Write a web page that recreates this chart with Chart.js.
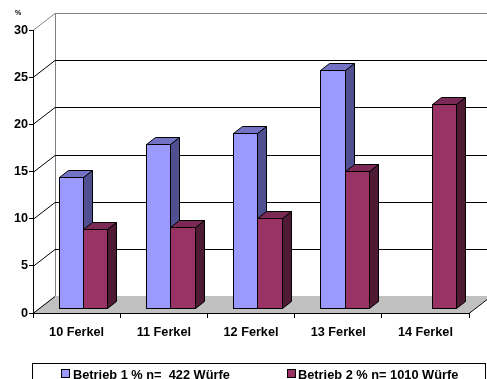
<!DOCTYPE html>
<html>
<head>
<meta charset="utf-8">
<script src="https://cdn.jsdelivr.net/npm/chart.js@4.4.1/dist/chart.umd.min.js"></script>
<style>
html,body{margin:0;padding:0;background:#fff;}
#wrap{width:487px;height:379px;}
</style>
</head>
<body>
<div id="wrap"><canvas id="c" width="487" height="379"></canvas></div>
<script>
const categories = ['10 Ferkel', '11 Ferkel', '12 Ferkel', '13 Ferkel', '14 Ferkel'];
const betrieb1 = [13.9, 17.4, 18.6, 25.2, null];
const betrieb2 = [8.4, 8.6, 9.5, 14.5, 21.6];
const seriesLabels = ['Betrieb 1 % n=  422 Würfe', 'Betrieb 2 % n= 1010 Würfe'];
const yTicks = [0, 5, 10, 15, 20, 25, 30];
const unitLabel = '%';

const FONT = "'Liberation Sans', Arial, sans-serif";
const DX = 22, DY = -17;          // full depth of the 3D box
const OX = 6.4, OY = -4.9;        // bar front plane offset
const BX = 9, BY = -7;            // bar depth
const faces = [
  {front: '#9999ff', side: '#505090', top: '#7373c6'},
  {front: '#993366', side: '#4f1a33', top: '#7a2a55'}
];

function line(ctx, x1, y1, x2, y2, color) {
  ctx.strokeStyle = color;
  ctx.lineWidth = 1;
  ctx.beginPath();
  ctx.moveTo(x1, y1);
  ctx.lineTo(x2, y2);
  ctx.stroke();
}

const walls = {
  id: 'walls',
  beforeDraw(chart) {
    const ctx = chart.ctx;
    const {left, right, top, bottom} = chart.chartArea;
    const ys = chart.scales.y;
    ctx.save();
    // floor
    ctx.fillStyle = '#c0c0c0';
    ctx.beginPath();
    ctx.moveTo(left, bottom);
    ctx.lineTo(right, bottom);
    ctx.lineTo(right + DX, bottom + DY);
    ctx.lineTo(left + DX, bottom + DY);
    ctx.closePath();
    ctx.fill();
    // back wall left edge
    const bx = Math.round(left + DX) + 0.5;
    line(ctx, bx, ys.getPixelForValue(0) + DY, bx, ys.getPixelForValue(30) + DY, '#808080');
    // gridlines on back wall and side wall
    yTicks.forEach(v => {
      const y = Math.round(ys.getPixelForValue(v)) + 0.5;
      const col = v === 30 ? '#808080' : '#000';
      if (v > 0) line(ctx, left + DX, y + DY, right + DX + 10, y + DY, col);
      line(ctx, left, y, left + DX, y + DY, col);
    });
    // floor right edge
    line(ctx, right, bottom + 0.5, right + DX, bottom + DY + 0.5, '#000');
    ctx.restore();
  }
};

const bars3d = {
  id: 'bars3d',
  afterDatasetsDraw(chart) {
    const ctx = chart.ctx;
    ctx.save();
    ctx.lineWidth = 1;
    ctx.strokeStyle = '#000';
    ctx.lineJoin = 'miter';
    chart.data.datasets.forEach((ds, i) => {
      const meta = chart.getDatasetMeta(i);
      const f = faces[i];
      meta.data.forEach((el, j) => {
        if (ds.data[j] === null || ds.data[j] === undefined) return;
        const p = el.getProps(['x', 'y', 'base', 'width'], true);
        const x0 = Math.round(p.x - p.width / 2 + OX) + 0.5;
        const x1 = Math.round(p.x + p.width / 2 + OX) + 0.5;
        const yT = Math.round(p.y + OY) + 0.5;
        const yB = Math.round(p.base + OY) + 0.5;
        // side
        ctx.fillStyle = f.side;
        ctx.beginPath();
        ctx.moveTo(x1, yT); ctx.lineTo(x1 + BX, yT + BY); ctx.lineTo(x1 + BX, yB + BY); ctx.lineTo(x1, yB);
        ctx.closePath(); ctx.fill(); ctx.stroke();
        // top
        ctx.fillStyle = f.top;
        ctx.beginPath();
        ctx.moveTo(x0, yT); ctx.lineTo(x0 + BX, yT + BY); ctx.lineTo(x1 + BX, yT + BY); ctx.lineTo(x1, yT);
        ctx.closePath(); ctx.fill(); ctx.stroke();
        // front
        ctx.fillStyle = f.front;
        ctx.fillRect(x0, yT, x1 - x0, yB - yT);
        ctx.strokeRect(x0, yT, x1 - x0, yB - yT);
      });
    });
    ctx.restore();
  },
  afterDraw(chart) {
    const ctx = chart.ctx;
    ctx.save();
    // unit label
    ctx.fillStyle = '#000';
    ctx.font = 'bold 7px ' + FONT;
    ctx.textAlign = 'center';
    ctx.textBaseline = 'middle';
    ctx.fillText(unitLabel, 18, 13);
    // legend box
    ctx.strokeStyle = '#000';
    ctx.lineWidth = 1;
    ctx.strokeRect(32.5, 363.5, 453, 30);
    const items = [{sx: 61, tx: 73}, {sx: 287, tx: 298}];
    ctx.font = 'bold 12.8px ' + FONT;
    ctx.textAlign = 'left';
    ctx.textBaseline = 'alphabetic';
    items.forEach((it, i) => {
      ctx.fillStyle = faces[i].front;
      ctx.fillRect(it.sx + 0.5, 369.5, 8, 8);
      ctx.strokeRect(it.sx + 0.5, 369.5, 8, 8);
      ctx.fillStyle = '#000';
      ctx.fillText(chart.data.datasets[i].label, it.tx, 379);
    });
    ctx.restore();
  }
};

new Chart(document.getElementById('c'), {
  type: 'bar',
  data: {
    labels: categories,
    datasets: [
      {label: seriesLabels[0], data: betrieb1, backgroundColor: 'rgba(0,0,0,0)', borderWidth: 0},
      {label: seriesLabels[1], data: betrieb2, backgroundColor: 'rgba(0,0,0,0)', borderWidth: 0}
    ]
  },
  options: {
    responsive: false,
    animation: false,
    events: [],
    categoryPercentage: 0.56,
    barPercentage: 1.0,
    layout: {padding: {top: 30, right: 18, left: 0, bottom: 0}},
    plugins: {legend: {display: false}, tooltip: {enabled: false}},
    scales: {
      x: {
        afterFit(s) { s.height = 66; },
        grid: {display: true, drawOnChartArea: false, drawTicks: true, tickLength: 5, color: '#000', offset: true},
        border: {display: true, color: '#000', width: 1},
        ticks: {color: '#000', font: {family: FONT, size: 12.7, weight: 'bold'}, padding: 7, maxRotation: 0}
      },
      y: {
        min: 0, max: 30,
        afterFit(s) { s.width = 33; },
        grid: {display: true, drawOnChartArea: false, drawTicks: true, tickLength: 4, color: '#000'},
        border: {display: true, color: '#000', width: 1},
        ticks: {stepSize: 5, color: '#000', font: {family: FONT, size: 12.7, weight: 'bold'}, padding: 1}
      }
    }
  },
  plugins: [walls, bars3d]
});
</script>
</body>
</html>
